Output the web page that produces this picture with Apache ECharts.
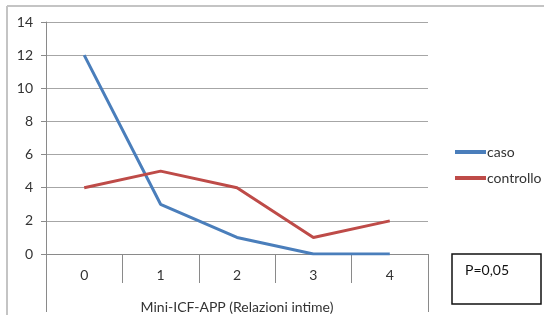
<!DOCTYPE html>
<html>
<head>
<meta charset="utf-8">
<script src="https://cdn.jsdelivr.net/npm/echarts@6/dist/echarts.min.js"></script>
<style>
  html, body { margin: 0; padding: 0; background: #fff; }
  #main { width: 544px; height: 315px; }
</style>
</head>
<body>
<div id="main"></div>
<script>
  // dati
  const categories = ['0', '1', '2', '3', '4'];
  const caso = [12, 3, 1, 0, 0];
  const controllo = [4, 5, 4, 1, 2];
  const yTicks = { min: 0, max: 14, step: 2 };
  const axisTitle = 'Mini-ICF-APP (Relazioni intime)';
  const pText = 'P=0,05';

  const font = 'Lato, "Open Sans", sans-serif';
  const gridL = 46, gridR = 428, gridB = 254;

  const myChart = echarts.init(document.getElementById('main'));
  const option = {
    animation: false,
    textStyle: { fontFamily: font },
    grid: { left: gridL, right: 544 - gridR, top: 22, bottom: 315 - gridB, outerBoundsMode: 'none', containLabel: false },
    legend: {
      orient: 'vertical',
      left: 450,
      top: 140,
      itemWidth: 31,
      itemHeight: 4,
      itemGap: 12,
      icon: 'rect',
      textStyle: { fontSize: 14, color: '#333', fontFamily: font, padding: [0, 0, 0, -4] },
      data: ['caso', 'controllo']
    },
    xAxis: {
      type: 'category',
      data: categories,
      boundaryGap: true,
      axisLine: { lineStyle: { color: '#8a8a8a', width: 1 } },
      axisTick: { show: true, interval: 0, length: 29, lineStyle: { color: '#8a8a8a' } },
      axisLabel: { color: '#333', fontSize: 14, margin: 14 },
      name: axisTitle,
      nameLocation: 'middle',
      nameGap: 46,
      nameTextStyle: { color: '#333', fontSize: 14, fontFamily: font }
    },
    yAxis: {
      type: 'value',
      min: yTicks.min,
      max: yTicks.max,
      interval: yTicks.step,
      axisLine: { show: true, lineStyle: { color: '#8a8a8a' } },
      axisTick: { show: true, length: 5, lineStyle: { color: '#8a8a8a' } },
      axisLabel: { color: '#333', fontSize: 14, margin: 13 },
      splitLine: { lineStyle: { color: '#a6a6a6' } }
    },
    series: [
      {
        name: 'caso', type: 'line', data: caso,
        symbol: 'none', color: '#4a7ebb',
        lineStyle: { width: 3, color: '#4a7ebb' }
      },
      {
        name: 'controllo', type: 'line', data: controllo,
        symbol: 'none', color: '#be4b48',
        lineStyle: { width: 3, color: '#be4b48' }
      }
    ],
    graphic: [
      // cornice dell'immagine
      { type: 'line', shape: { x1: 7, y1: 6, x2: 544, y2: 6 }, style: { stroke: '#c4c4c4', lineWidth: 2 } },
      { type: 'line', shape: { x1: 7, y1: 6, x2: 7, y2: 315 }, style: { stroke: '#c4c4c4', lineWidth: 2 } },
      // bordi della tabella sotto l'asse
      { type: 'line', shape: { x1: gridL + 0.5, y1: gridB, x2: gridL + 0.5, y2: 312 }, style: { stroke: '#8a8a8a', lineWidth: 1 } },
      { type: 'line', shape: { x1: gridR + 0.5, y1: gridB, x2: gridR + 0.5, y2: 312 }, style: { stroke: '#8a8a8a', lineWidth: 1 } },
      // riquadro P
      { type: 'rect', shape: { x: 452, y: 254, width: 89, height: 50 }, style: { fill: '#fff', stroke: '#111', lineWidth: 1.5 } },
      { type: 'text', left: 465, top: 263, style: { text: pText, fontSize: 14, fill: '#111', fontFamily: font } }
    ]
  };
  myChart.setOption(option);
</script>
</body>
</html>
